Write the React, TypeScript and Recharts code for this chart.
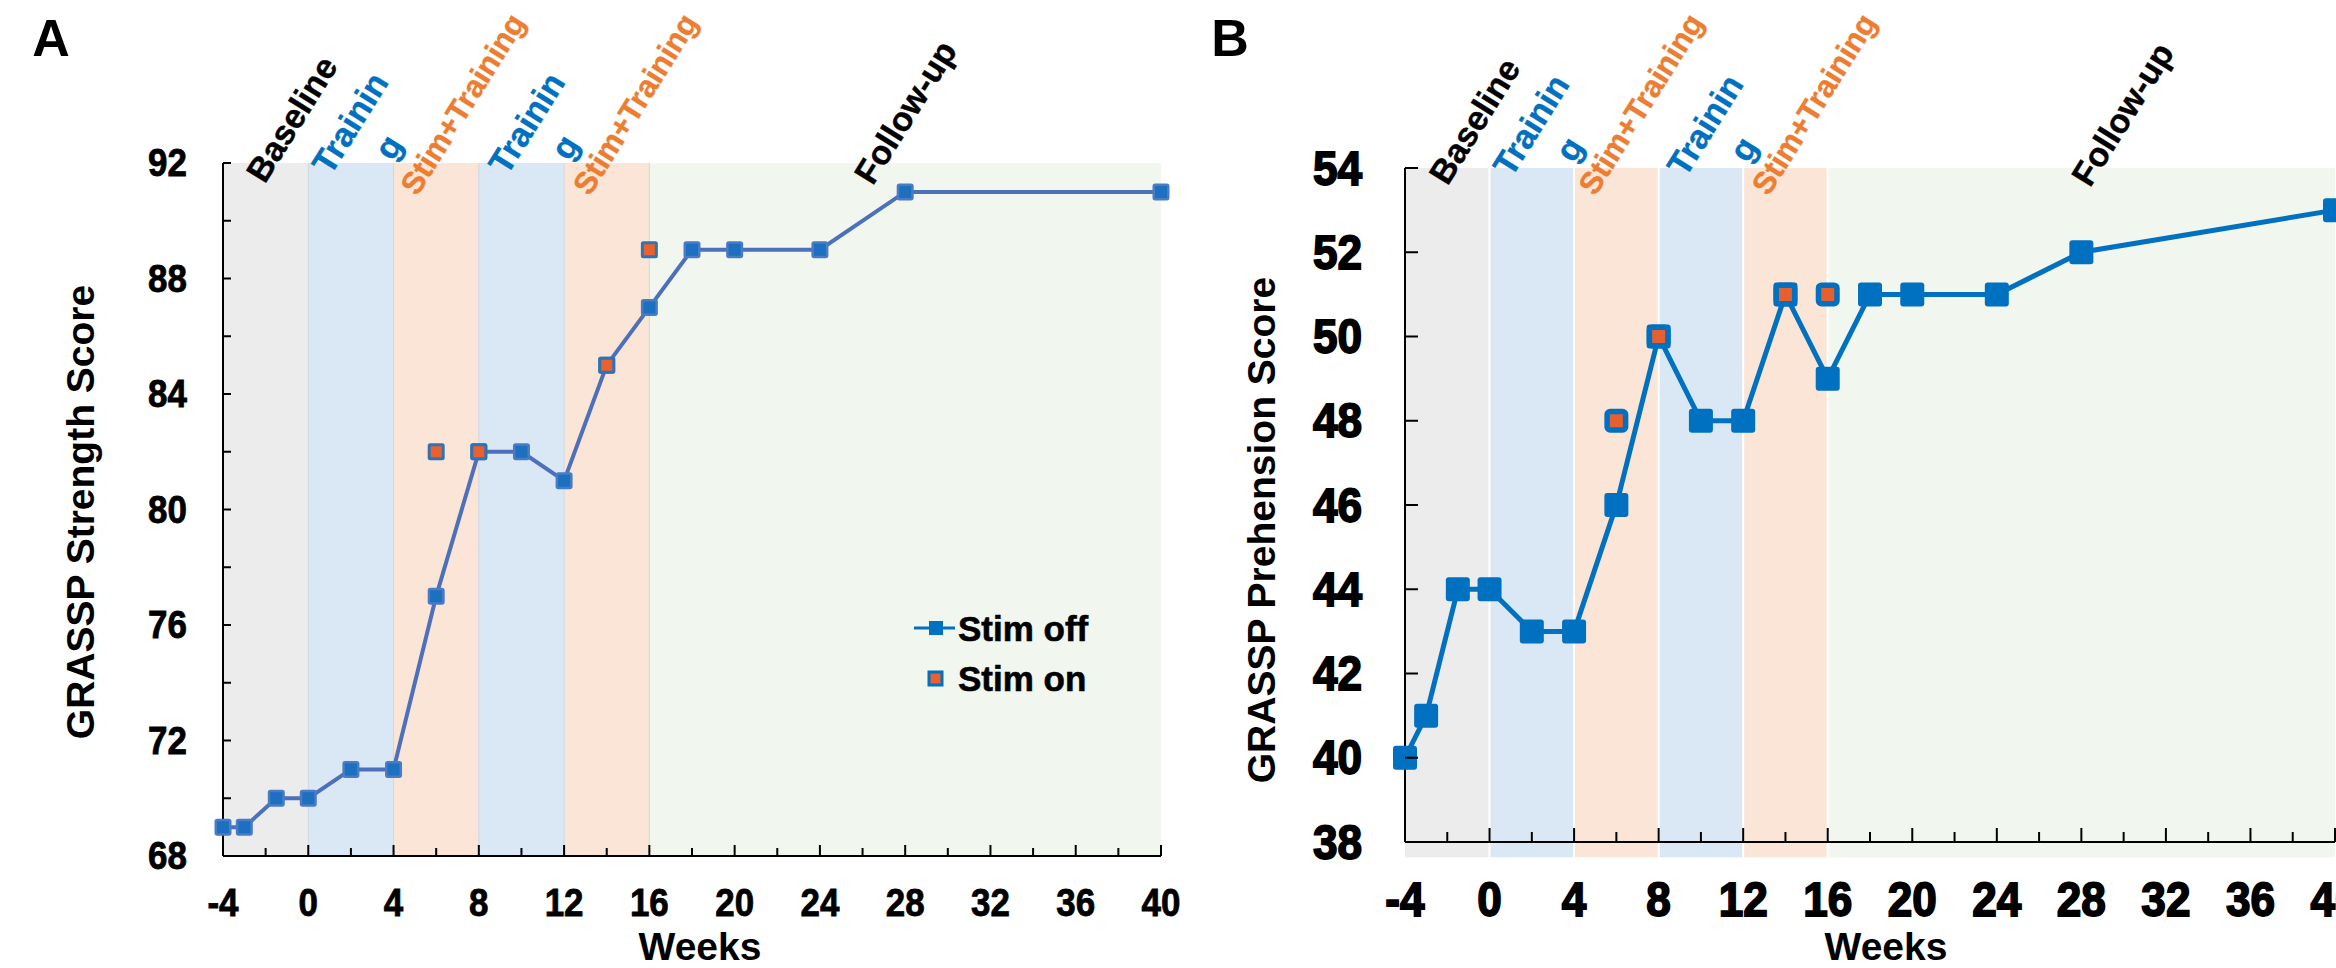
import React from 'react';
import { ComposedChart, Line, XAxis, YAxis, ReferenceArea, ReferenceLine, Legend } from 'recharts';

const FONT = '"Liberation Sans", Arial, Helvetica, sans-serif';

// assessment weeks, stim off (connected line)
const weeks = [-4, -3, -1.5, 0, 2, 4, 6, 8, 10, 12, 14, 16, 18, 20, 24, 28, 40];
const strengthOff = [69, 69, 70, 70, 71, 71, 77, 82, 82, 81, 85, 87, 89, 89, 89, 91, 91];
const prehensionOff = [40, 41, 44, 44, 43, 43, 46, 50, 48, 48, 51, 49, 51, 51, 51, 52, 53];

// assessments done with stimulation on
const stimWeeks = [6, 8, 14, 16];
const strengthOn = [82, 82, 85, 89];
const prehensionOn = [48, 50, 51, 51];

// study phases
const phaseStart = [-4, 0, 4, 8, 12, 16];
const phaseEnd = [0, 4, 8, 12, 16, 40];
const phaseLabels = [['Baseline'], ['Trainin', 'g'], ['Stim+Training'], ['Trainin', 'g'], ['Stim+Training'], ['Follow-up']];

const xTicks = [-4, -2, 0, 2, 4, 6, 8, 10, 12, 14, 16, 18, 20, 22, 24, 26, 28, 30, 32, 34, 36, 38, 40];
const strengthTicks = [68, 70, 72, 74, 76, 78, 80, 82, 84, 86, 88, 90, 92];
const prehensionTicks = [38, 40, 42, 44, 46, 48, 50, 52, 54];
const legendLabels = ['Stim off', 'Stim on'];

const phaseFill = ['#ececec', '#d9e8f4', '#fbe5d6', '#d9e8f4', '#fbe5d6', '#f1f6ee'];
const phaseInk = ['#000000', '#0070c0', '#ed7d31', '#0070c0', '#ed7d31', '#000000'];

const toPoints = (xs: number[], ys: number[]) => xs.map((week, i) => ({ week, score: ys[i] }));

const squareDot = (size: number, fill: string, stroke: string, sw: number, rx: number) => (p: any) => {
  if (p.cx == null || p.cy == null) return <g key={`n-${p.index}`} />;
  return (
    <rect
      key={`sq-${p.index}`}
      x={p.cx - size / 2}
      y={p.cy - size / 2}
      width={size}
      height={size}
      rx={rx}
      fill={fill}
      stroke={stroke}
      strokeWidth={sw}
    />
  );
};

// rotated phase caption above each shaded band
const bandLabel = (lines: string[], color: string, dx: number, dy: number, anchor: 'middle' | 'start', size: number) => (props: any) => {
  const vb = props.viewBox;
  if (!vb) return null;
  const cx = vb.x + vb.width / 2 + dx;
  const cy = vb.y + dy;
  return (
    <text
      transform={`translate(${cx},${cy}) rotate(-58)`}
      textAnchor={anchor}
      dominantBaseline={anchor === 'middle' ? 'central' : 'alphabetic'}
      fontSize={size}
      fontWeight="bold"
      fontFamily={FONT}
      fill={color}
      stroke={color}
      strokeWidth={0.4}
    >
      {lines.map((l, i) => (
        <tspan key={i} x={0} dy={i === 0 ? 0 : 45}>{l}</tspan>
      ))}
    </text>
  );
};

const panels = [
  {
    left: 0,
    width: 1200,
    margin: { top: 163, right: 39, bottom: 52, left: 163 },
    off: strengthOff,
    on: strengthOn,
    yDomain: [68, 92],
    yTicks: strengthTicks,
    yLabelStep: 4,
    bandFloor: 68,
    divider: '#cdd8e3',
    dividerWidth: 1,
    lineColor: '#4c70bb',
    lineWidth: 4,
    offDot: squareDot(14.5, '#1d6fc0', '#4a7cc6', 2.5, 1.5),
    onDot: squareDot(14, '#e8612e', '#2e74b5', 3, 1),
    tickFont: 38,
    tickStroke: 0.8,
    yGap: 36,
    yLen: 8,
    xGap: 47,
    xMajor: 11,
    xMinor: 8,
    labelOffsets: [
      [26, -44, 'middle', 34], [-1, -40, 'middle', 34], [-19, 34, 'start', 31],
      [5, -40, 'middle', 34], [-17, 34, 'start', 31], [0, -51, 'middle', 34],
    ],
    legend: true,
  },
  {
    left: 1200,
    width: 1200,
    margin: { top: 168, right: 65, bottom: 66, left: 145 },
    off: prehensionOff,
    on: prehensionOn,
    yDomain: [38, 54],
    yTicks: prehensionTicks,
    yLabelStep: 2,
    bandFloor: 37.64,
    divider: '#ffffff',
    dividerWidth: 2,
    lineColor: '#0070c0',
    lineWidth: 5,
    offDot: squareDot(24, '#0070c0', 'none', 0, 3),
    onDot: squareDot(18.5, '#e55f2f', '#0070c0', 5.5, 3),
    tickFont: 48,
    tickStroke: 1.8,
    yGap: 43,
    yLen: 13,
    xGap: 57,
    xMajor: 14,
    xMinor: 10,
    labelOffsets: [
      [27, -47, 'middle', 34], [-1, -43, 'middle', 34], [-21, 29, 'start', 31],
      [4, -43, 'middle', 34], [-17, 29, 'start', 31], [41, -54, 'middle', 34],
    ],
    legend: false,
  },
];

const renderLegend = () => (
  <svg width={200} height={100} style={{ display: 'block', overflow: 'visible' }}>
    <line x1={9} x2={50} y1={28} y2={28} stroke="#0070c0" strokeWidth={3} />
    <rect x={24} y={21} width={14} height={14} fill="#0070c0" />
    <text x={53} y={28} dominantBaseline="central" fontSize={35} fontWeight="bold" fontFamily={FONT} fill="#000" stroke="#000" strokeWidth={0.6}>
      {legendLabels[0]}
    </text>
    <rect x={24} y={72} width={13} height={13} fill="#e8612e" stroke="#0070c0" strokeWidth={3} />
    <text x={53} y={78} dominantBaseline="central" fontSize={35} fontWeight="bold" fontFamily={FONT} fill="#000" stroke="#000" strokeWidth={0.6}>
      {legendLabels[1]}
    </text>
  </svg>
);

function Panel({ cfg }: { cfg: any }) {
  const off = toPoints(weeks, cfg.off);
  const on = toPoints(stimWeeks, cfg.on);

  const yTick = (p: any) => {
    const ax = p.x + cfg.yGap;
    const v = p.payload.value;
    return (
      <g key={`yt-${v}`}>
        <line x1={ax} x2={ax + cfg.yLen} y1={p.y} y2={p.y} stroke="#000" strokeWidth={2} />
        {v % cfg.yLabelStep === 0 && (
          <text
            transform={`translate(${p.x},${p.y}) scale(0.92,1)`}
            textAnchor="end"
            dominantBaseline="central"
            fontSize={cfg.tickFont}
            fontWeight="bold"
            fontFamily={FONT}
            fill="#000"
            stroke="#000"
            strokeWidth={cfg.tickStroke}
          >
            {v}
          </text>
        )}
      </g>
    );
  };

  const xTick = (p: any) => {
    const ay = p.y - cfg.xGap;
    const v = p.payload.value;
    const major = v % 4 === 0;
    return (
      <g key={`xt-${v}`}>
        <line x1={p.x} x2={p.x} y1={ay} y2={ay - (major ? cfg.xMajor : cfg.xMinor)} stroke="#000" strokeWidth={2} />
        {major && (
          <text
            transform={`translate(${p.x},${p.y}) scale(0.92,1)`}
            textAnchor="middle"
            dominantBaseline="central"
            fontSize={cfg.tickFont}
            fontWeight="bold"
            fontFamily={FONT}
            fill="#000"
            stroke="#000"
            strokeWidth={cfg.tickStroke}
          >
            {v}
          </text>
        )}
      </g>
    );
  };

  return (
    <div style={{ position: 'absolute', left: cfg.left, top: 0 }}>
      <ComposedChart width={cfg.width} height={968} margin={cfg.margin}>
        {phaseStart.map((s, i) => (
          <ReferenceArea
            key={`band-${i}`}
            x1={s}
            x2={phaseEnd[i]}
            y1={cfg.bandFloor}
            y2={cfg.yDomain[1]}
            fill={phaseFill[i]}
            fillOpacity={1}
            stroke="none"
            ifOverflow="visible"
          />
        ))}
        {phaseStart.slice(1).map((s) => (
          <ReferenceLine
            key={`div-${s}`}
            segment={[{ x: s, y: cfg.bandFloor }, { x: s, y: cfg.yDomain[1] }]}
            stroke={cfg.divider}
            strokeWidth={cfg.dividerWidth}
            ifOverflow="visible"
          />
        ))}
        <XAxis
          type="number"
          dataKey="week"
          domain={[-4, 40]}
          ticks={xTicks}
          interval={0}
          tickSize={0}
          tickMargin={cfg.xGap}
          tickLine={false}
          tick={xTick}
          axisLine={{ stroke: '#000', strokeWidth: 2 }}
          height={60}
        />
        <YAxis
          type="number"
          domain={cfg.yDomain}
          ticks={cfg.yTicks}
          interval={0}
          tickSize={0}
          tickMargin={cfg.yGap}
          tickLine={false}
          tick={yTick}
          axisLine={{ stroke: '#000', strokeWidth: 2 }}
          width={60}
        />
        {phaseStart.map((s, i) => {
          const [dx, dy, anchor, size] = cfg.labelOffsets[i];
          return (
            <ReferenceArea
              key={`lab-${i}`}
              x1={s}
              x2={phaseEnd[i]}
              y1={cfg.yDomain[0]}
              y2={cfg.yDomain[1]}
              fill="none"
              stroke="none"
              ifOverflow="visible"
              label={bandLabel(phaseLabels[i], phaseInk[i], dx, dy, anchor, size)}
            />
          );
        })}
        <Line
          data={off}
          dataKey="score"
          name={legendLabels[0]}
          stroke={cfg.lineColor}
          strokeWidth={cfg.lineWidth}
          dot={cfg.offDot}
          activeDot={false}
          isAnimationActive={false}
        />
        <Line
          data={on}
          dataKey="score"
          name={legendLabels[1]}
          stroke="none"
          strokeWidth={0}
          dot={cfg.onDot}
          activeDot={false}
          isAnimationActive={false}
        />
        {cfg.legend && (
          <Legend
            layout="vertical"
            align="center"
            verticalAlign="middle"
            content={renderLegend}
            wrapperStyle={{ left: 905, top: 600, width: 220 }}
          />
        )}
      </ComposedChart>
    </div>
  );
}

const caption = (text: string, x: number, y: number, size: number, rotate = 0) => (
  <div
    key={text + x}
    style={{
      position: 'absolute',
      left: x,
      top: y,
      transform: `translate(-50%, -50%) rotate(${rotate}deg)`,
      fontFamily: FONT,
      fontWeight: 'bold',
      fontSize: size,
      lineHeight: 1,
      whiteSpace: 'nowrap',
      color: '#000',
    }}
  >
    {text}
  </div>
);

export default function App() {
  return (
    <div
      style={{
        position: 'fixed',
        left: 0,
        top: 0,
        width: 2336,
        height: 968,
        overflow: 'hidden',
        background: '#fff',
      }}
    >
      {panels.map((cfg, i) => (
        <Panel key={i} cfg={cfg} />
      ))}
      {caption('A', 51, 38, 52)}
      {caption('B', 1230, 38, 52)}
      {caption('GRASSP Strength Score', 80, 512, 39, -90)}
      {caption('GRASSP Prehension Score', 1261, 530, 39, -90)}
      {caption('Weeks', 700, 946, 39)}
      {caption('Weeks', 1886, 946, 39)}
    </div>
  );
}
